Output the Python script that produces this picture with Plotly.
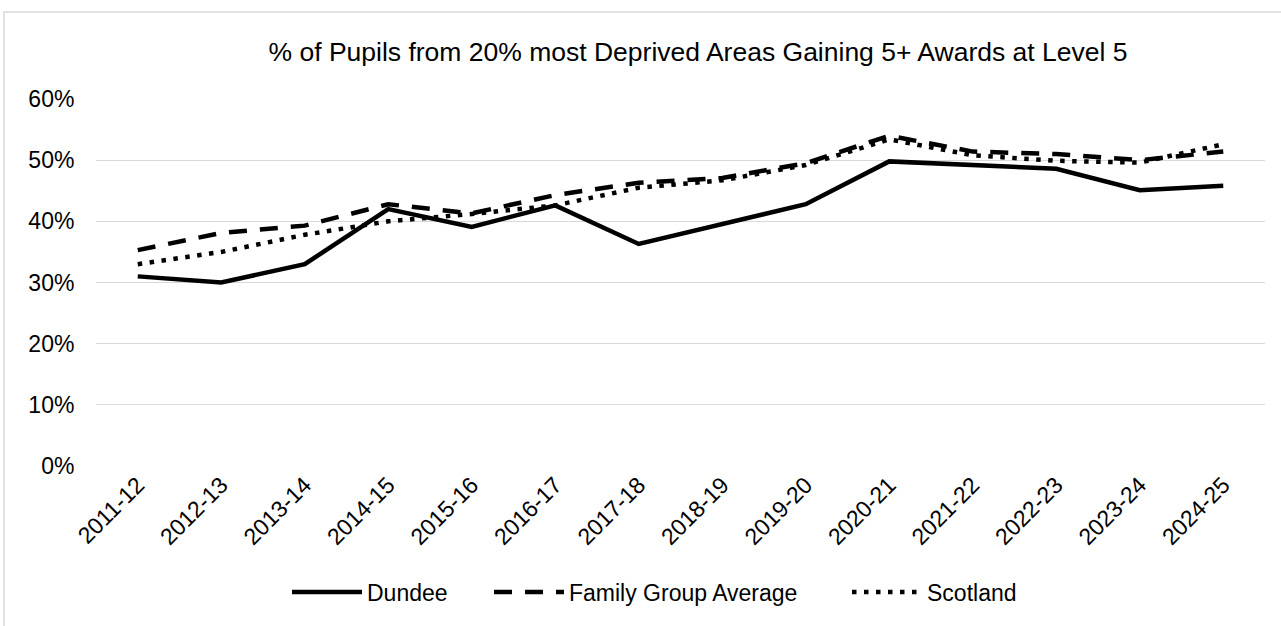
import plotly.graph_objects as go

years = ["2011-12", "2012-13", "2013-14", "2014-15", "2015-16", "2016-17", "2017-18",
         "2018-19", "2019-20", "2020-21", "2021-22", "2022-23", "2023-24", "2024-25"]
dundee = [31.0, 30.0, 33.0, 42.0, 39.1, 42.6, 36.3, 39.6, 42.8, 49.8, 49.2, 48.6, 45.1, 45.8]
family_group = [35.3, 38.1, 39.3, 42.8, 41.3, 44.3, 46.3, 47.1, 49.5, 54.0, 51.4, 51.0, 50.0, 51.4]
scotland = [33.0, 35.0, 37.8, 40.0, 41.2, 42.6, 45.5, 46.7, 49.2, 53.4, 50.8, 49.9, 49.6, 52.6]
y_ticks = [0, 10, 20, 30, 40, 50, 60]
y_tick_labels = ["0%", "10%", "20%", "30%", "40%", "50%", "60%"]

FONT = "Liberation Sans, Arial, sans-serif"
W, H = 1281, 626
L, R, T, B = 96, 16, 99, 160
PW, PH = W - L - R, H - T - B

def px_x(p):
    return (p - L) / PW

def px_y(p):
    return (H - B - p) / PH

fig = go.Figure()
fig.add_trace(go.Scatter(x=years, y=dundee, name="Dundee", mode="lines", legend="legend",
                         line=dict(color="black", width=4.5)))
fig.add_trace(go.Scatter(x=years, y=family_group, name="Family Group Average", mode="lines",
                         legend="legend2",
                         line=dict(color="black", width=4.5, dash="18px,13px")))
fig.add_trace(go.Scatter(x=years, y=scotland, name="Scotland", mode="lines", legend="legend3",
                         line=dict(color="black", width=4.5, dash="4.5px,7.5px")))

LEG_Y = px_y(592)
def legend_at(text_px):
    return dict(orientation="h", x=px_x(text_px - 81), xanchor="left", y=LEG_Y,
                yanchor="middle", font=dict(size=23), itemwidth=70,
                bgcolor="rgba(0,0,0,0)")

fig.update_layout(
    width=W, height=H,
    margin=dict(l=L, r=R, t=T, b=B),
    paper_bgcolor="white", plot_bgcolor="white",
    font=dict(family=FONT, color="black", size=23),
    title=dict(text="% of Pupils from 20% most Deprived Areas Gaining 5+ Awards at Level 5",
               x=698 / W, xref="container", xanchor="center",
               y=1 - 52 / H, yref="container", yanchor="middle",
               font=dict(family=FONT, size=26.5, color="black")),
    xaxis=dict(type="category", range=[-0.5, 13.5], showgrid=False, showline=False,
               zeroline=False, tickangle=-45, tickfont=dict(size=23),
               ticks="", fixedrange=True),
    yaxis=dict(range=[0, 60], tickvals=y_ticks, ticktext=y_tick_labels,
               showgrid=True, gridcolor="#d9d9d9", gridwidth=1.3, zeroline=False,
               showline=False, ticks="outside", ticklen=16, tickcolor="rgba(0,0,0,0)",
               tickfont=dict(size=23), fixedrange=True),
    legend=legend_at(368),
    legend2=legend_at(570),
    legend3=legend_at(928),
    showlegend=True,
)

fig.add_shape(type="rect", xref="paper", yref="paper",
              x0=px_x(4), x1=px_x(1290), y0=px_y(640), y1=px_y(12),
              line=dict(color="#d9d9d9", width=1.5), fillcolor="rgba(0,0,0,0)", layer="below")

fig.write_html("out.html",
               config={"displayModeBar": False},
               post_script="document.body.style.margin='0px';document.body.style.overflow='hidden';")
